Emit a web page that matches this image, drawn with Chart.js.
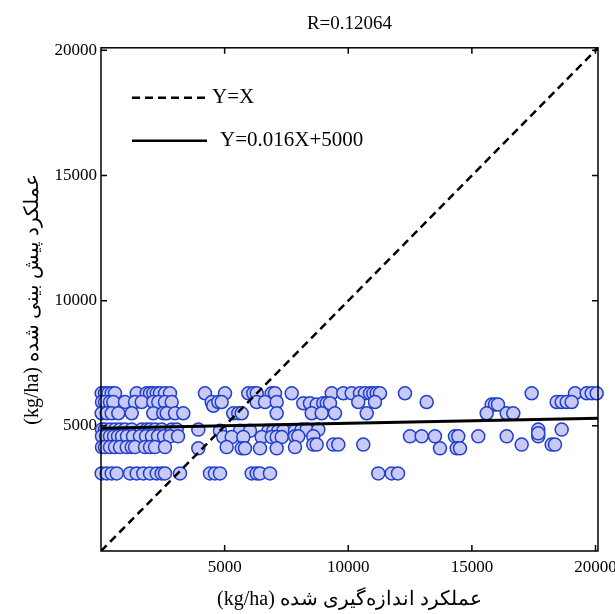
<!DOCTYPE html>
<html><head><meta charset="utf-8">
<script src="https://cdn.jsdelivr.net/npm/chart.js@4/dist/chart.umd.min.js"></script>
<style>html,body{margin:0;padding:0;background:#fff;}#wrap{width:615px;height:614px;}</style>
</head><body><div id="wrap"><canvas id="c" width="615" height="614"></canvas></div>
<script>
const titleText = 'R=0.12064';
const xAxisTitle = '(kg/ha) عملکرد اندازه‌گیری شده';
const yAxisTitle = '(kg/ha) عملکرد پیش بینی شده';
const tickValues = [5000, 10000, 15000, 20000];
const axisMax = 20100;
const legendLabels = ['Y=X', 'Y=0.016X+5000'];

const measuredYield = [
  28,162,295,433,566,1444,1848,1982,2115,2253,2386,2588,2790,4206,5015,5957,6159,6297,6903,7037,7712,9330,9799,10138,10474,10676,10878,11012,11149,11283,12294,17417,19169,19642,19844,20046,
  40,162,364,497,971,1375,1646,2115,2317,2588,2859,4477,4542,4744,4881,6297,6632,7105,8181,8452,8723,8990,9128,9261,10405,11081,13171,15800,15934,16055,18429,18631,18833,19035,
  28,230,433,700,1242,2115,2519,2657,2993,3328,5350,5552,5690,7105,8521,8925,9463,10745,15598,16407,16674,
  40,162,364,566,768,971,1242,1646,1848,1982,2184,2455,2859,3061,3935,4812,5621,6025,6766,6968,7170,7372,7845,8116,8318,8788,17684,18631,
  40,202,364,526,687,849,1051,1294,1577,1820,2062,2305,2548,2790,3114,4946,5286,5755,6499,6903,7105,7308,7845,7979,8586,12496,12969,13507,14316,14449,15258,16407,17684,17684,
  40,162,364,566,768,1039,1242,1375,1779,1982,2184,2588,3935,5083,5690,5823,6430,7105,7845,8586,8723,9394,9597,10607,13709,14384,14518,17013,18226,18360,
  28,230,433,635,1173,1444,1711,1982,2253,2455,2588,3195,4408,4610,4812,6094,6297,6430,6834,11214,11756,12011
];
const predictedYield = [
  6300,6300,6300,6300,6300,6300,6300,6300,6300,6300,6300,6300,6300,6300,6300,6300,6300,6300,6300,6300,6300,6300,6300,6300,6300,6300,6300,6300,6300,6300,6300,6300,6300,6300,6300,6300,
  5950,5950,5950,5950,5950,5950,5950,5950,5950,5950,5950,5950,5800,5950,5950,5950,5950,5950,5900,5900,5850,5900,5900,5900,5950,5950,5950,5850,5850,5850,5950,5950,5950,5950,
  5500,5500,5500,5500,5500,5500,5500,5500,5500,5500,5500,5500,5500,5500,5500,5500,5500,5500,5500,5500,5500,
  4850,4850,4850,4850,4850,4850,4850,4850,4850,4850,4850,4850,4850,4850,4850,4800,4800,4800,4800,4800,4800,4800,4800,4850,4850,4850,4850,4850,
  4580,4580,4580,4580,4580,4580,4580,4580,4580,4580,4580,4580,4580,4580,4580,4550,4550,4550,4550,4550,4550,4550,4580,4580,4580,4580,4580,4580,4580,4580,4580,4580,4580,4700,
  4150,4150,4150,4150,4150,4150,4150,4150,4150,4150,4150,4150,4100,4150,4100,4100,4100,4100,4150,4250,4250,4250,4250,4250,4100,4100,4100,4250,4250,4250,
  3100,3100,3100,3100,3100,3100,3100,3100,3100,3100,3100,3100,3100,3100,3100,3100,3100,3100,3100,3100,3100,3100
];
const identityX = [0, 20100];
const identityY = [0, 20100];
const fitX = [0, 20100];
const fitY = [4900, 5300];

const serif = "'Liberation Serif', 'Times New Roman', serif";
const pts = (xs, ys) => xs.map((v, i) => ({x: v, y: ys[i]}));

const framePlugin = {
  id: 'frame',
  afterDraw(chart) {
    const {ctx, chartArea: a, scales: {x, y}} = chart;
    ctx.save();
    ctx.strokeStyle = '#000';
    ctx.lineWidth = 1.5;
    ctx.strokeRect(a.left, a.top, a.right - a.left, a.bottom - a.top);
    const L = 6;
    ctx.beginPath();
    tickValues.forEach(v => {
      const px = x.getPixelForValue(v);
      ctx.moveTo(px, a.bottom); ctx.lineTo(px, a.bottom - L);
      ctx.moveTo(px, a.top); ctx.lineTo(px, a.top + L);
      const py = y.getPixelForValue(v);
      ctx.moveTo(a.left, py); ctx.lineTo(a.left + L, py);
      ctx.moveTo(a.right, py); ctx.lineTo(a.right - L, py);
    });
    ctx.stroke();
    // legend
    ctx.lineWidth = 2.5;
    ctx.setLineDash([8, 5]);
    ctx.beginPath();
    ctx.moveTo(a.left + 31, a.top + 50); ctx.lineTo(a.left + 107, a.top + 50);
    ctx.stroke();
    ctx.setLineDash([]);
    ctx.beginPath();
    ctx.moveTo(a.left + 31, a.top + 93); ctx.lineTo(a.left + 106, a.top + 93);
    ctx.stroke();
    ctx.fillStyle = '#000';
    ctx.font = '21px ' + serif;
    ctx.textBaseline = 'middle';
    ctx.textAlign = 'left';
    ctx.fillText(legendLabels[0], a.left + 111, a.top + 50);
    ctx.fillText(legendLabels[1], a.left + 119, a.top + 93);
    ctx.restore();
  }
};

new Chart(document.getElementById('c'), {
  type: 'scatter',
  data: {
    datasets: [
      {data: pts(identityX, identityY), showLine: true, borderColor: '#000', borderWidth: 2.5,
       borderDash: [8, 5], pointRadius: 0, fill: false},
      {data: pts(fitX, fitY), showLine: true, borderColor: '#000', borderWidth: 3,
       pointRadius: 0, fill: false},
      {data: pts(measuredYield, predictedYield), showLine: false, pointRadius: 6.5,
       pointBorderWidth: 1.5, pointBackgroundColor: '#c9c9f6', pointBorderColor: '#1f3fcc', clip: false}
    ]
  },
  options: {
    responsive: false,
    animation: false,
    devicePixelRatio: 1,
    layout: {padding: {left: 0, right: 17, top: 0, bottom: 0}},
    plugins: {
      legend: {display: false},
      tooltip: {enabled: false},
      title: {display: true, text: titleText, fullSize: false, color: '#000',
              font: {family: serif, size: 19, weight: 'normal'}, padding: {top: 13, bottom: 12}}
    },
    scales: {
      x: {
        type: 'linear', min: 0, max: axisMax,
        afterBuildTicks: s => { s.ticks = tickValues.map(v => ({value: v})); },
        afterFit: s => { s.height = 63; s.paddingLeft = 0; s.paddingRight = 0; },
        grid: {display: false, drawTicks: false},
        border: {display: false},
        ticks: {color: '#000', font: {family: serif, size: 17}, padding: 6, maxRotation: 0, autoSkip: false,
                callback: v => String(v)},
        title: {display: true, text: xAxisTitle, color: '#000', font: {family: serif, size: 20}, padding: {top: 0, bottom: 2}}
      },
      y: {
        type: 'linear', min: 0, max: axisMax,
        afterBuildTicks: s => { s.ticks = tickValues.map(v => ({value: v})); },
        afterFit: s => { s.width = 101; s.paddingTop = 0; s.paddingBottom = 0; },
        grid: {display: false, drawTicks: false},
        border: {display: false},
        ticks: {color: '#000', font: {family: serif, size: 17}, padding: 4, autoSkip: false,
                callback: v => String(v)},
        title: {display: true, text: yAxisTitle, color: '#000', font: {family: serif, size: 20}, padding: {top: 21, bottom: 0}}
      }
    }
  },
  plugins: [framePlugin]
});
</script>
</body></html>
